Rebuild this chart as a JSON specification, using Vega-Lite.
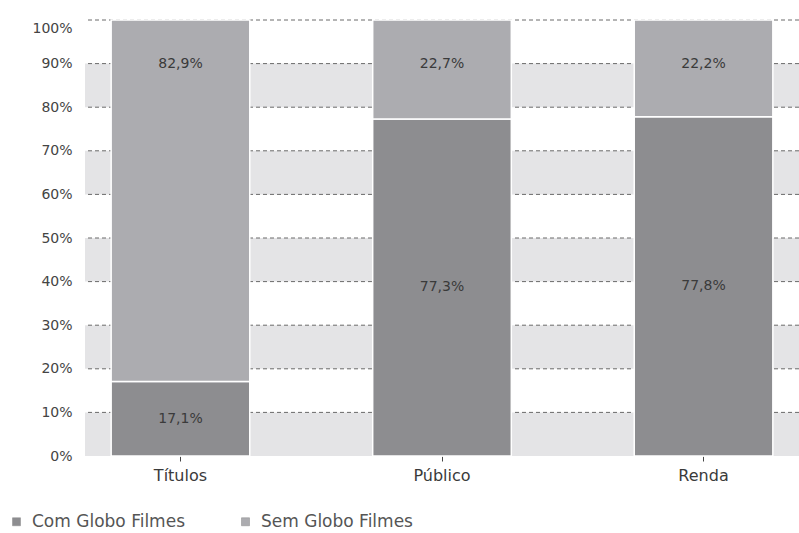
{
  "$schema": "https://vega.github.io/schema/vega-lite/v6.json",
  "width": 714,
  "height": 436,
  "autosize": {"type": "none"},
  "padding": {"left": 85, "top": 20, "right": 0, "bottom": 77},
  "background": "white",
  "config": {
    "view": {"stroke": null},
    "font": "DejaVu Sans",
    "axis": {"labelFont": "DejaVu Sans", "labelColor": "#444444"},
    "legend": {"labelFont": "DejaVu Sans"}
  },
  "datasets": {
    "participacao": [
      {"categoria": "Títulos", "grupo": "Com Globo Filmes", "valor": 17.1},
      {"categoria": "Títulos", "grupo": "Sem Globo Filmes", "valor": 82.9},
      {"categoria": "Público", "grupo": "Com Globo Filmes", "valor": 77.3},
      {"categoria": "Público", "grupo": "Sem Globo Filmes", "valor": 22.7},
      {"categoria": "Renda", "grupo": "Com Globo Filmes", "valor": 77.8},
      {"categoria": "Renda", "grupo": "Sem Globo Filmes", "valor": 22.2}
    ],
    "faixas": [
      {"de": 0, "ate": 10},
      {"de": 20, "ate": 30},
      {"de": 40, "ate": 50},
      {"de": 60, "ate": 70},
      {"de": 80, "ate": 90}
    ],
    "grade": [
      {"nivel": 10}, {"nivel": 20}, {"nivel": 30}, {"nivel": 40}, {"nivel": 50},
      {"nivel": 60}, {"nivel": 70}, {"nivel": 80}, {"nivel": 90}, {"nivel": 100}
    ]
  },
  "layer": [
    {
      "data": {"name": "faixas"},
      "mark": {"type": "rect", "color": "#e4e4e6"},
      "encoding": {
        "y": {"field": "de", "type": "quantitative", "scale": {"domain": [0, 100], "nice": false}},
        "y2": {"field": "ate"}
      }
    },
    {
      "data": {"name": "grade"},
      "mark": {"type": "rule", "color": "#6a6a6a", "strokeDash": [4, 3], "strokeWidth": 1},
      "encoding": {
        "y": {"field": "nivel", "type": "quantitative"}
      }
    },
    {
      "data": {"name": "participacao"},
      "mark": {"type": "bar", "stroke": "white", "strokeWidth": 1.5},
      "encoding": {
        "x": {
          "field": "categoria",
          "type": "nominal",
          "sort": ["Títulos", "Público", "Renda"],
          "scale": {"paddingInner": 0.47, "paddingOuter": 0.1},
          "axis": {
            "title": null,
            "labelAngle": 0,
            "labelFontSize": 16,
            "labelColor": "#3a3a3a",
            "domain": false,
            "ticks": true,
            "tickSize": 5,
            "tickColor": "#444444",
            "labelPadding": 6
          }
        },
        "y": {
          "field": "valor",
          "type": "quantitative",
          "stack": "zero",
          "axis": {
            "title": null,
            "values": [0, 10, 20, 30, 40, 50, 60, 70, 80, 90, 100],
            "labelExpr": "datum.value + '%'",
            "labelFontSize": 14,
            "labelColor": "#444444",
            "domain": false,
            "ticks": false,
            "grid": false,
            "labelPadding": 13,
            "labelOffset": {"condition": {"test": "datum.value == 100", "value": 8}, "value": 0}
          }
        },
        "color": {
          "field": "grupo",
          "type": "nominal",
          "scale": {"domain": ["Com Globo Filmes", "Sem Globo Filmes"], "range": ["#8d8d90", "#acacb0"]},
          "legend": {
            "title": null,
            "orient": "none",
            "direction": "horizontal",
            "legendX": -77,
            "legendY": 493,
            "symbolType": "square",
            "symbolSize": 64,
            "symbolStrokeColor": "#888888",
            "symbolStrokeWidth": 0.5,
            "labelOffset": 7,
            "labelFontSize": 17,
            "labelColor": "#555555",
            "labelLimit": 300,
            "columnPadding": 52
          }
        },
        "order": {"field": "grupo", "sort": "ascending"}
      }
    },
    {
      "data": {"name": "participacao"},
      "transform": [
        {"stack": "valor", "groupby": ["categoria"], "sort": [{"field": "grupo", "order": "ascending"}], "as": ["v0", "v1"]},
        {"calculate": "datum.grupo == 'Sem Globo Filmes' ? datum.v1 - 10 : (datum.v0 + datum.v1) / 2", "as": "posicao"},
        {"calculate": "replace(format(datum.valor, '.1f'), '.', ',') + '%'", "as": "rotulo"}
      ],
      "mark": {"type": "text", "fontSize": 14, "color": "#3a3a3a", "baseline": "middle"},
      "encoding": {
        "x": {"field": "categoria", "type": "nominal", "sort": ["Títulos", "Público", "Renda"]},
        "y": {"field": "posicao", "type": "quantitative"},
        "text": {"field": "rotulo"}
      }
    }
  ]
}
